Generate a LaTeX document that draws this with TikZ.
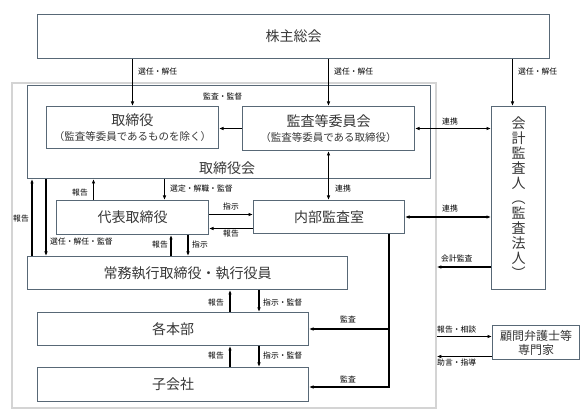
\documentclass[tikz,border=0pt]{standalone}
\usepackage{fontspec}
\setmainfont{Noto Sans CJK JP}
\usetikzlibrary{arrows.meta}
\definecolor{boxc}{RGB}{88,104,118}
\definecolor{outc}{RGB}{212,212,212}
\definecolor{txtc}{RGB}{55,55,55}
\tikzset{
  box/.style={draw=boxc, line width=1pt, anchor=north west, inner sep=0pt, align=center,
              font=\fontsize{14}{16}\selectfont, text=txtc},
  arr/.style={-{Latex[length=4.5pt,width=3.6pt]}, line width=1.2pt},
  darr/.style={{Latex[length=4.5pt,width=3.6pt]}-{Latex[length=4.5pt,width=3.6pt]}, line width=1.2pt},
  lab/.style={font=\fontsize{7.8}{9}\selectfont, inner sep=0pt, anchor=west},
  mtext/.style={font=\fontsize{14}{16}\selectfont, text=txtc, inner sep=0pt},
}
\begin{document}
\begin{tikzpicture}[x=1pt,y=-1pt]
\useasboundingbox (0,0) rectangle (587,414);
\fill[white] (0,0) rectangle (587,414);
% outer gray frame
\node[draw=outc, line width=1.8pt, anchor=north west, inner sep=0pt,
      minimum width=424pt, minimum height=325pt] (outer) at (11,82) {};
% boxes
\node[box, minimum width=512pt, minimum height=44pt] (kabu) at (37,14) {株主総会};
\node[box, minimum width=403pt, minimum height=93pt] (torikai) at (27,85) {};
\node[mtext] (torikailab) at (227,168) {取締役会};
\node[box, minimum width=172pt, minimum height=42pt] (tori) at (46,106)
  {取締役\\[-1pt]{\fontsize{10.5}{12}\selectfont （監査等委員であるものを除く）}};
\node[box, minimum width=172pt, minimum height=44pt] (kansa) at (242,106)
  {監査等委員会\\[-1pt]{\fontsize{10.5}{12}\selectfont （監査等委員である取締役）}};
\node[box, minimum width=54pt, minimum height=183pt, font=\fontsize{14}{15}\selectfont] (kaikei) at (491,106)
  {会\\計\\監\\査\\人\\︵\\監\\査\\法\\人\\︶};
\node[box, minimum width=152pt, minimum height=34pt] (daihyo) at (56,200) {代表取締役};
\node[box, minimum width=151pt, minimum height=33pt] (naibu) at (253,200) {内部監査室};
\node[box, minimum width=320pt, minimum height=33pt] (jomu) at (27,256) {常務執行取締役・執行役員};
\node[box, minimum width=271pt, minimum height=33pt] (kakuhonbu) at (37,312) {各本部};
\node[box, minimum width=271pt, minimum height=34pt] (kogaisha) at (37,367) {子会社};
\node[box, minimum width=87pt, minimum height=34pt, font=\fontsize{12}{14}\selectfont] (komon) at (492,325)
  {顧問弁護士等\\専門家};
% helper coordinates
\coordinate (h267) at (0,267);
% shareholders
\draw[arr] (kabu.south -| tori.north) -- (tori.north);
\draw[arr] (kabu.south -| kansa.north) -- (kansa.north);
\coordinate (k3) at ([xshift=-6pt]kaikei.north);
\draw[arr] (kabu.south -| k3) -- (k3);
\node[lab] at (138,72) {選任・解任};
\node[lab] at (334,72) {選任・解任};
\node[lab] at (518,72) {選任・解任};
% audit committee
\draw[arr] (kansa.west) -- (kansa.west -| tori.east);
\node[lab] at (203,97) {監査・監督};
\draw[darr] (kansa.east) -- (kansa.east -| kaikei.west);
\node[lab] at (442,122) {連携};
\draw[darr] (kansa.south) -- (kansa.south |- naibu.north);
\node[lab] at (335,189) {連携};
\draw[darr] (naibu.east) -- (naibu.east -| kaikei.west);
\node[lab] at (442,209) {連携};
\draw[arr] (kaikei.west |- h267) -- (outer.east |- h267);
\node[lab] at (441,259) {会計監査};
% advisors
\coordinate (kc1) at ([yshift=6pt]komon.west);
\draw[arr] (outer.east |- kc1) -- (kc1);
\node[lab] at (437,330) {報告・相談};
\coordinate (kc2) at ([yshift=-14pt]komon.west);
\draw[arr] (kc2) -- (outer.east |- kc2);
\node[lab] at (437,363) {助言・指導};
% board <-> representative director
\coordinate (d1) at ([xshift=-39pt]daihyo.north);
\draw[arr] (d1) -- (torikai.south -| d1);
\node[lab] at (72,193) {報告};
\coordinate (d2) at ([xshift=32pt]daihyo.north);
\draw[arr] (torikai.south -| d2) -- (d2);
\node[lab] at (170,189) {選定・解職・監督};
% board <-> executive officers
\coordinate (j1) at ([xshift=5pt]jomu.north west);
\draw[arr] (j1) -- (torikai.south -| j1);
\node[lab] at (13,219) {報告};
\coordinate (j2) at ([xshift=19pt]jomu.north west);
\draw[arr] (torikai.south -| j2) -- (j2);
\node[lab] at (50,242) {選任・解任・監督};
% representative <-> internal audit
\coordinate (n1) at ([yshift=3pt]daihyo.east);
\draw[arr] (n1) -- (naibu.west |- n1);
\node[lab] at (223,207) {指示};
\coordinate (n2) at ([yshift=-11pt]daihyo.east);
\draw[arr] (naibu.west |- n2) -- (n2);
\node[lab] at (223,234) {報告};
% executive <-> representative
\coordinate (m1) at ([xshift=115pt]daihyo.south west);
\draw[arr] (jomu.north -| m1) -- (m1);
\node[lab] at (152,245) {報告};
\coordinate (m2) at ([xshift=132pt]daihyo.south west);
\draw[arr] (m2) -- (jomu.north -| m2);
\node[lab] at (192,245) {指示};
% divisions <-> executive
\coordinate (h1) at ([xshift=193pt]kakuhonbu.north west);
\draw[arr] (h1) -- (jomu.south -| h1);
\node[lab] at (208,303) {報告};
\coordinate (h2) at ([xshift=222pt]kakuhonbu.north west);
\draw[arr] (jomu.south -| h2) -- (h2);
\node[lab] at (263,303) {指示・監督};
% subsidiaries <-> divisions
\coordinate (g1) at ([xshift=193pt]kogaisha.north west);
\draw[arr] (g1) -- (kakuhonbu.south -| g1);
\node[lab] at (208,356) {報告};
\coordinate (g2) at ([xshift=222pt]kogaisha.north west);
\draw[arr] (kakuhonbu.south -| g2) -- (g2);
\node[lab] at (263,356) {指示・監督};
% internal audit lines
\coordinate (v0) at ([xshift=-16pt]naibu.south east);
\coordinate (ke) at ([yshift=-2.5pt]kogaisha.east);
\draw[arr, line join=miter] (v0) -- (v0 |- ke) -- (ke);
\draw[arr] (v0 |- kakuhonbu.east) -- (kakuhonbu.east);
\node[lab] at (340,319) {監査};
\node[lab] at (340,379) {監査};
\end{tikzpicture}
\end{document}
